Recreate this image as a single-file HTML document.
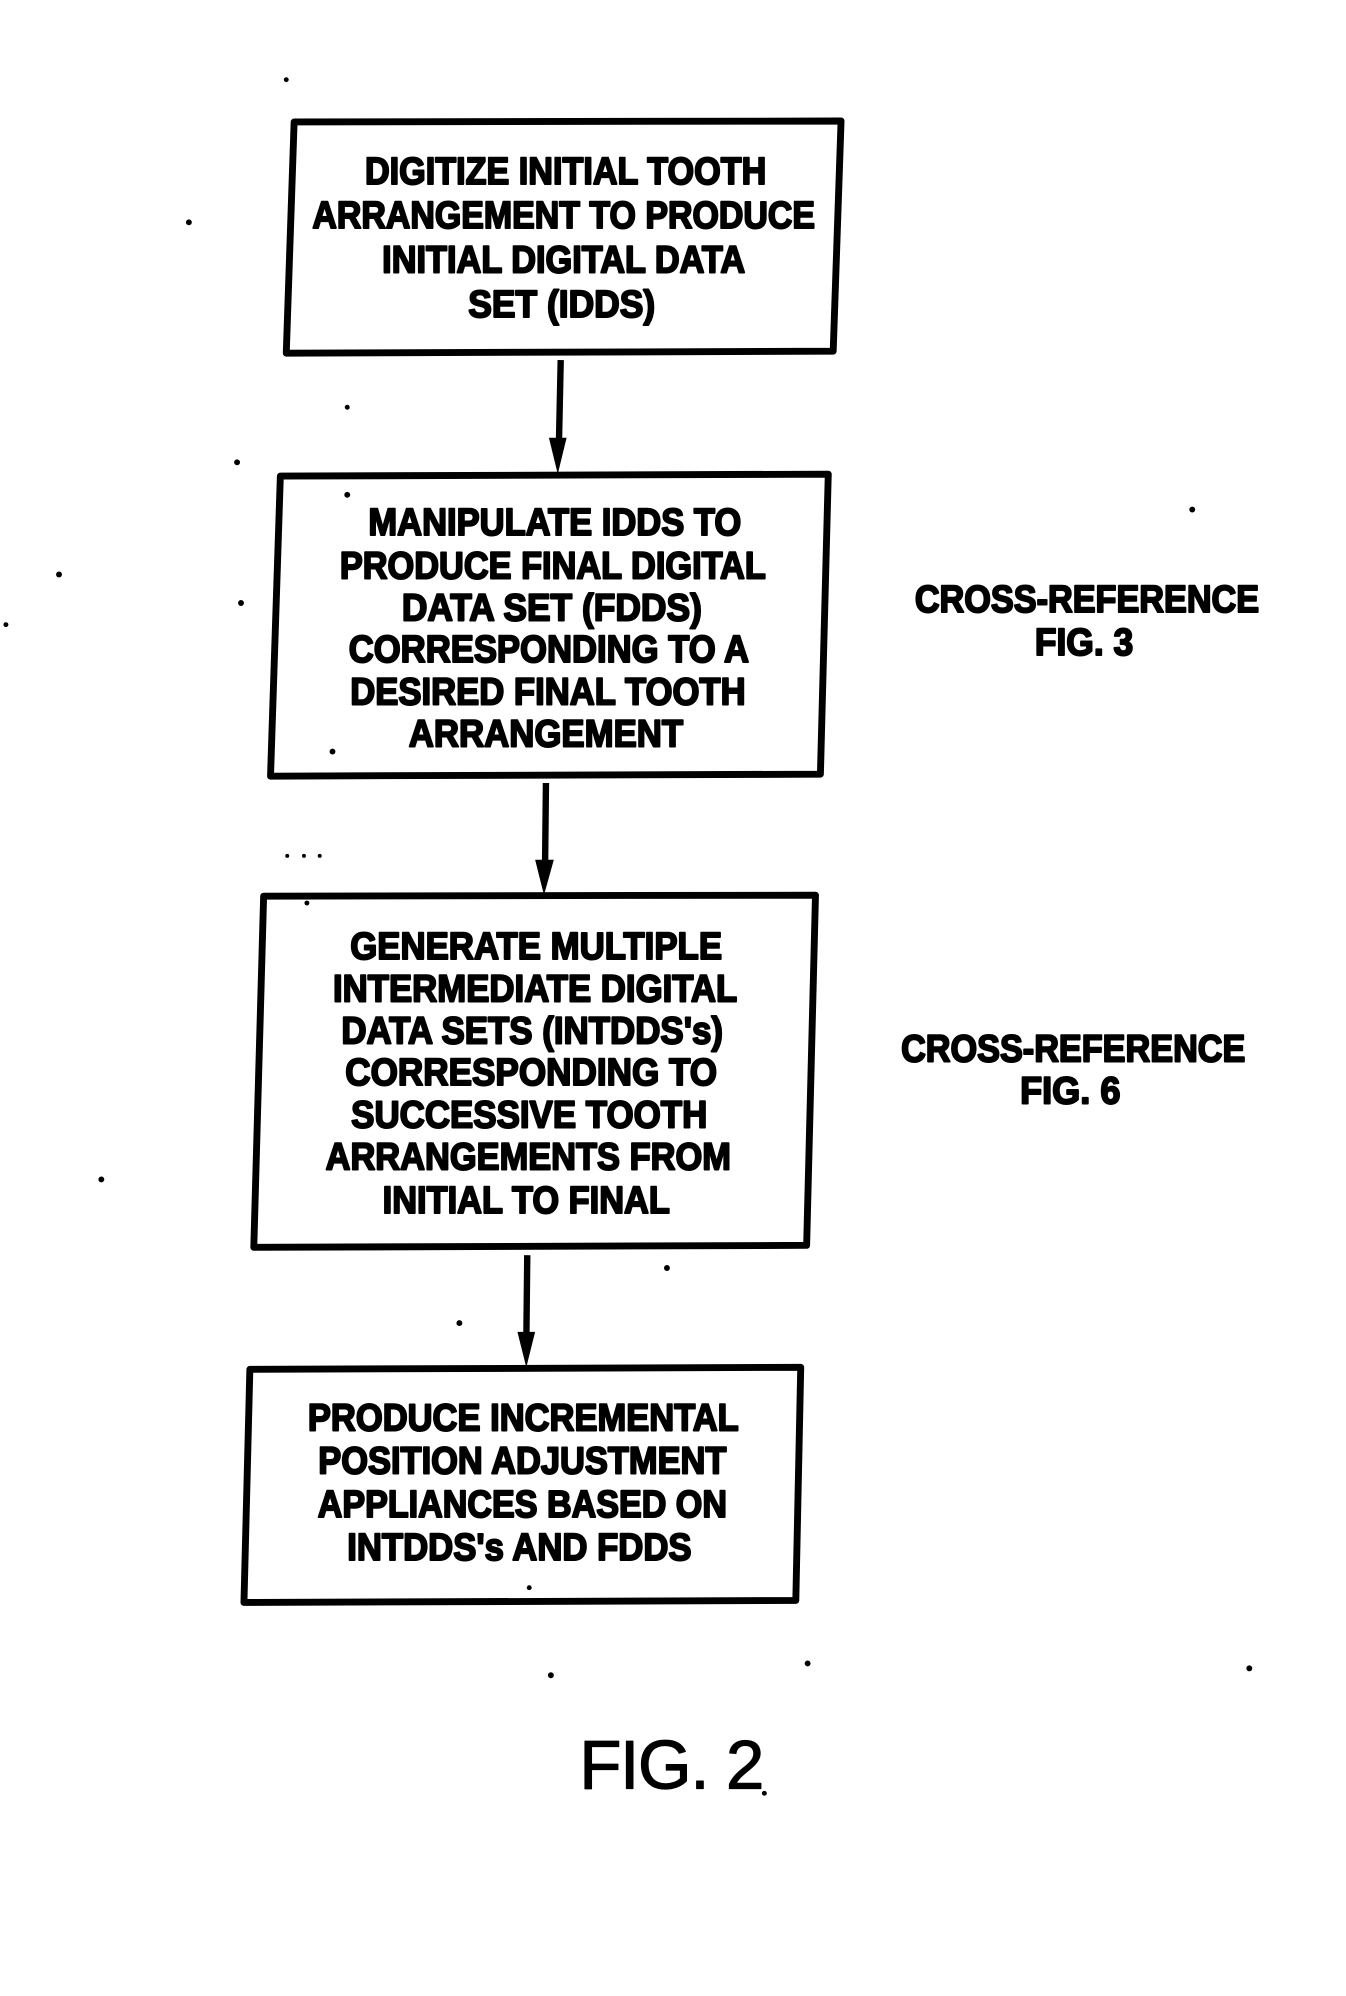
<!DOCTYPE html>
<html><head><meta charset="utf-8"><style>
html,body{margin:0;padding:0;background:#fff}
svg{display:block}
text{font-family:"Liberation Sans",sans-serif;font-weight:bold;fill:#000;stroke:#000;stroke-width:2;stroke-linejoin:round;text-anchor:middle;font-size:39px}
.f{font-weight:normal;stroke-width:1.2;font-size:70px}
polygon.b{fill:none;stroke:#000;stroke-width:7;stroke-linejoin:round}
line{stroke:#000;stroke-width:6.5}
</style></head><body>
<svg width="1346" height="1996" viewBox="0 0 1346 1996" xmlns="http://www.w3.org/2000/svg">
<g transform="scale(0.9837)">
<polygon class="b" points="299,124 855,123 847,357 291,359"/>
<polygon class="b" points="285,484 842,482 834,787 275,789"/>
<polygon class="b" points="268,911 829,910 820,1266 258,1268"/>
<polygon class="b" points="254,1392 814,1390 809,1627 248,1629"/>
<line x1="570" y1="366" x2="568" y2="460"/><polygon points="558,445 576,445 567,482"/>
<line x1="555" y1="796" x2="554" y2="888"/><polygon points="544,874 563,874 553,910"/>
<line x1="536" y1="1276" x2="535" y2="1368"/><polygon points="526,1354 544,1354 535,1390"/>
<g>
<text x="575" y="187" textLength="408" lengthAdjust="spacingAndGlyphs">DIGITIZE INITIAL TOOTH</text>
<text x="573" y="232" textLength="511" lengthAdjust="spacingAndGlyphs">ARRANGEMENT TO PRODUCE</text>
<text x="573" y="277" textLength="369" lengthAdjust="spacingAndGlyphs">INITIAL DIGITAL DATA</text>
<text x="571" y="322" textLength="190" lengthAdjust="spacingAndGlyphs">SET (IDDS)</text>
<text x="564" y="544" textLength="379" lengthAdjust="spacingAndGlyphs">MANIPULATE IDDS TO</text>
<text x="562" y="588" textLength="433" lengthAdjust="spacingAndGlyphs">PRODUCE FINAL DIGITAL</text>
<text x="561" y="631" textLength="305" lengthAdjust="spacingAndGlyphs">DATA SET (FDDS)</text>
<text x="558" y="673" textLength="407" lengthAdjust="spacingAndGlyphs">CORRESPONDING TO A</text>
<text x="557" y="716" textLength="402" lengthAdjust="spacingAndGlyphs">DESIRED FINAL TOOTH</text>
<text x="555" y="759" textLength="279" lengthAdjust="spacingAndGlyphs">ARRANGEMENT</text>
<text x="545" y="975" textLength="378" lengthAdjust="spacingAndGlyphs">GENERATE MULTIPLE</text>
<text x="544" y="1018" textLength="411" lengthAdjust="spacingAndGlyphs">INTERMEDIATE DIGITAL</text>
<text x="541" y="1061" textLength="388" lengthAdjust="spacingAndGlyphs">DATA SETS (INTDDS's)</text>
<text x="540" y="1103" textLength="378" lengthAdjust="spacingAndGlyphs">CORRESPONDING TO</text>
<text x="538" y="1146" textLength="362" lengthAdjust="spacingAndGlyphs">SUCCESSIVE TOOTH</text>
<text x="537" y="1189" textLength="412" lengthAdjust="spacingAndGlyphs">ARRANGEMENTS FROM</text>
<text x="535" y="1233" textLength="292" lengthAdjust="spacingAndGlyphs">INITIAL TO FINAL</text>
<text x="532" y="1454" textLength="438" lengthAdjust="spacingAndGlyphs">PRODUCE INCREMENTAL</text>
<text x="531" y="1498" textLength="415" lengthAdjust="spacingAndGlyphs">POSITION ADJUSTMENT</text>
<text x="531" y="1542" textLength="416" lengthAdjust="spacingAndGlyphs">APPLIANCES BASED ON</text>
<text x="528" y="1586" textLength="350" lengthAdjust="spacingAndGlyphs">INTDDS's AND FDDS</text>
<text x="1105" y="622" textLength="350" lengthAdjust="spacingAndGlyphs">CROSS-REFERENCE</text>
<text x="1102" y="666" textLength="100" lengthAdjust="spacingAndGlyphs">FIG. 3</text>
<text x="1091" y="1079" textLength="350" lengthAdjust="spacingAndGlyphs">CROSS-REFERENCE</text>
<text x="1088" y="1122" textLength="102" lengthAdjust="spacingAndGlyphs">FIG. 6</text>
<text class="f" x="683" y="1818" textLength="188" lengthAdjust="spacing">FIG. 2</text>
</g>
<g fill="#000">
<circle cx="291" cy="81" r="2.5"/><circle cx="192" cy="226" r="3"/><circle cx="353" cy="414" r="2.5"/><circle cx="241" cy="470" r="3"/><circle cx="353" cy="503" r="3"/><circle cx="60" cy="584" r="3"/><circle cx="245" cy="613" r="3"/><circle cx="6" cy="635" r="2.5"/><circle cx="1212" cy="518" r="3"/><circle cx="338" cy="764" r="3"/><circle cx="292" cy="870" r="2"/><circle cx="309" cy="870" r="2"/><circle cx="325" cy="870" r="2"/><circle cx="312" cy="918" r="2.5"/><circle cx="103" cy="1199" r="3"/><circle cx="678" cy="1289" r="3"/><circle cx="467" cy="1345" r="3"/><circle cx="538" cy="1614" r="2.5"/><circle cx="560" cy="1703" r="3"/><circle cx="821" cy="1691" r="3"/><circle cx="1270" cy="1696" r="3"/><circle cx="777" cy="1823" r="2.5"/>
</g>
</g>
</svg>
</body></html>
